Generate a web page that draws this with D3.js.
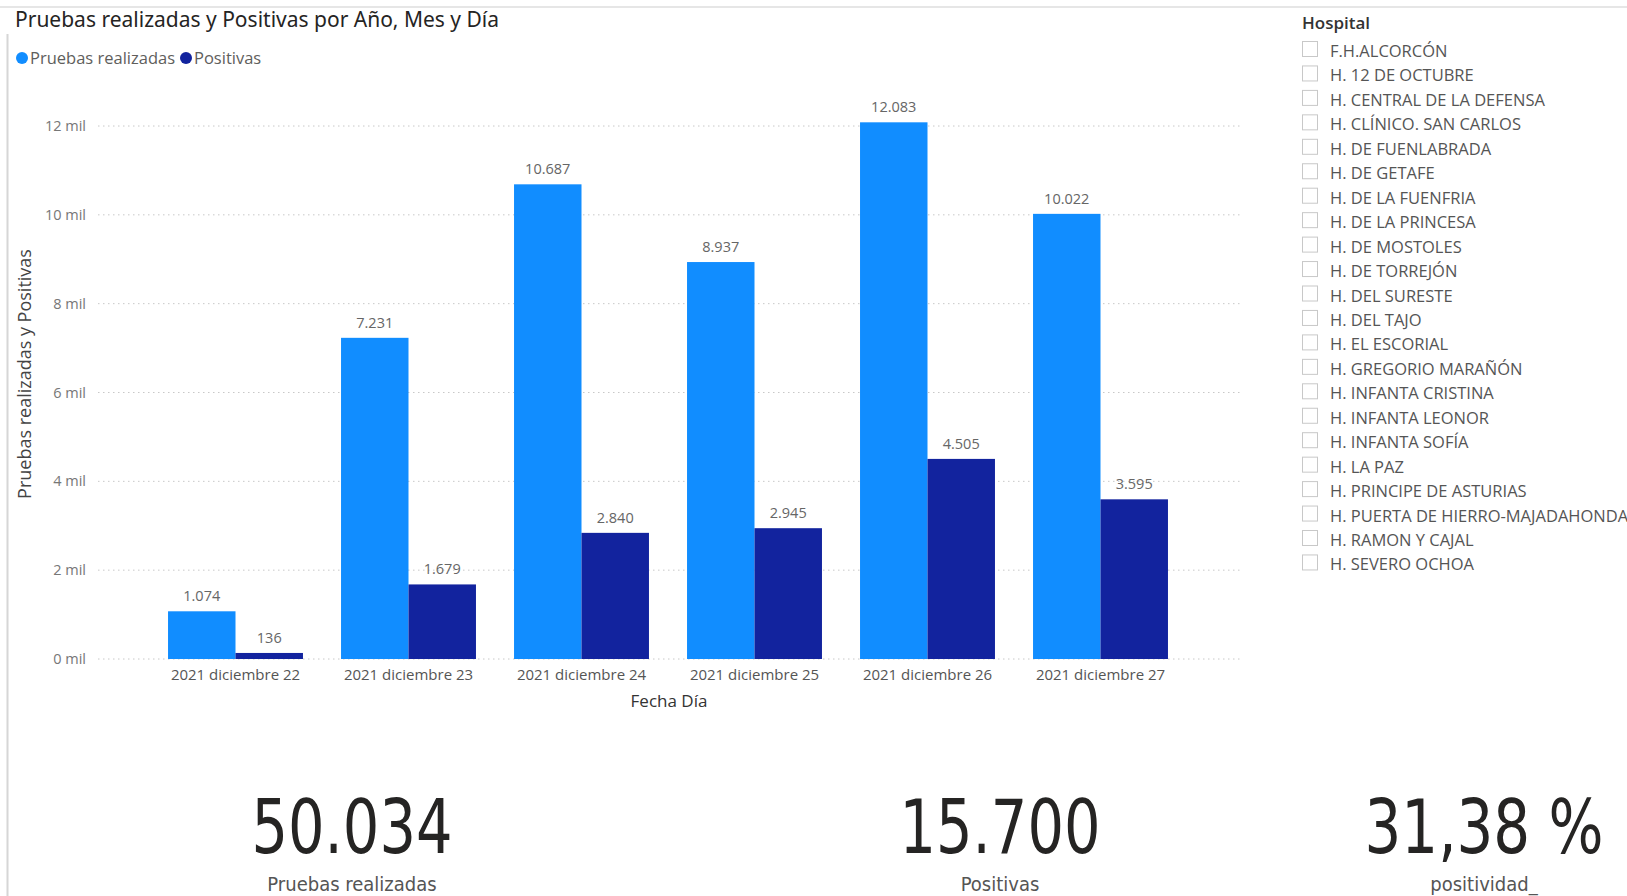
<!DOCTYPE html>
<html>
<head>
<meta charset="utf-8">
<script src="https://cdn.jsdelivr.net/npm/d3@7"></script>
<style>
  html, body { margin: 0; padding: 0; background: #fff; }
  svg { display: block; }
</style>
</head>
<body>
<svg id="chart" width="1627" height="896"></svg>
<script>
// ---- DATA ----
const categories = ["2021 diciembre 22", "2021 diciembre 23", "2021 diciembre 24", "2021 diciembre 25", "2021 diciembre 26", "2021 diciembre 27"];
const seriesNames = ["Pruebas realizadas", "Positivas"];
const pruebas = [1074, 7231, 10687, 8937, 12083, 10022];
const positivas = [136, 1679, 2840, 2945, 4505, 3595];
const yTicks = [0, 2000, 4000, 6000, 8000, 10000, 12000];
const hospitals = ["F.H.ALCORCÓN", "H. 12 DE OCTUBRE", "H. CENTRAL DE LA DEFENSA", "H. CLÍNICO. SAN CARLOS", "H. DE FUENLABRADA", "H. DE GETAFE", "H. DE LA FUENFRIA", "H. DE LA PRINCESA", "H. DE MOSTOLES", "H. DE TORREJÓN", "H. DEL SURESTE", "H. DEL TAJO", "H. EL ESCORIAL", "H. GREGORIO MARAÑÓN", "H. INFANTA CRISTINA", "H. INFANTA LEONOR", "H. INFANTA SOFÍA", "H. LA PAZ", "H. PRINCIPE DE ASTURIAS", "H. PUERTA DE HIERRO-MAJADAHONDA", "H. RAMON Y CAJAL", "H. SEVERO OCHOA"];
const kpiLabels = ["Pruebas realizadas", "Positivas", "positividad_"];

// ---- RENDER ----
const colors = ["#118DFF", "#12239E"];
const font = "'Open Sans', 'Noto Sans', sans-serif";
const es = d3.formatLocale({decimal: ",", thousands: ".", grouping: [3], currency: ["", "€"]});
const fmtInt = es.format(",d");
const fmtPct = es.format(",.2f");

const svg = d3.select("#chart");

// frame lines
svg.append("line").attr("x1", 7.5).attr("x2", 7.5).attr("y1", 34).attr("y2", 896).attr("stroke", "#d6d6d6").attr("stroke-width", 2);
svg.append("line").attr("x1", 0).attr("x2", 1627).attr("y1", 7).attr("y2", 7).attr("stroke", "#e6e6e6").attr("stroke-width", 2);

// title
svg.append("text").attr("x", 15).attr("y", 27).attr("font-family", "'Noto Sans', sans-serif")
  .attr("font-size", 21).attr("fill", "#252423").text("Pruebas realizadas y Positivas por Año, Mes y Día");

// legend
const legend = svg.append("g").attr("font-family", font).attr("font-size", 16.5).attr("fill", "#605E5C");
let lx = 22;
seriesNames.forEach((n, i) => {
  legend.append("circle").attr("cx", lx).attr("cy", 58).attr("r", 6).attr("fill", colors[i]);
  const t = legend.append("text").attr("x", lx + 8).attr("y", 64).text(n);
  lx = lx + 8 + t.node().getComputedTextLength() + 11;
});

// scales
const x0 = d3.scaleBand().domain(categories).range([149, 1187]).paddingInner(0.22).paddingOuter(0.11);
const x1 = d3.scaleBand().domain(seriesNames).range([0, x0.bandwidth()]);
const y = d3.scaleLinear().domain([0, 12000]).range([659, 126]);

// gridlines
svg.append("g").selectAll("line").data(yTicks).join("line")
  .attr("x1", 98).attr("x2", 1240)
  .attr("y1", d => y(d)).attr("y2", d => y(d))
  .attr("stroke", "#c8c8c8").attr("stroke-width", 1).attr("stroke-dasharray", "1.5,3.5");

// y axis
const yAxis = svg.append("g").attr("transform", "translate(86,0)")
  .call(d3.axisLeft(y).tickValues(yTicks).tickSize(0).tickPadding(0).tickFormat(d => (d / 1000) + " mil"));
yAxis.select(".domain").remove();
yAxis.selectAll("text").attr("font-family", font).attr("font-size", 14.5).attr("fill", "#777");

// y title
svg.append("text").attr("transform", "translate(31,374) rotate(-90)").attr("text-anchor", "middle")
  .attr("font-family", font).attr("font-size", 18).attr("fill", "#444").text("Pruebas realizadas y Positivas");

// x axis
const xAxis = svg.append("g").attr("transform", "translate(0,659)")
  .call(d3.axisBottom(x0).tickSize(0).tickPadding(10));
xAxis.select(".domain").remove();
xAxis.selectAll("text").attr("font-family", font).attr("font-size", 15).attr("fill", "#555");

svg.append("text").attr("x", 669).attr("y", 707).attr("text-anchor", "middle")
  .attr("font-family", font).attr("font-size", 17).attr("font-weight", 500).attr("fill", "#333").text("Fecha Día");

// bars
const rows = categories.map((c, i) => ({cat: c, vals: [pruebas[i], positivas[i]]}));
const g = svg.append("g");
const grp = g.selectAll("g").data(rows).join("g").attr("transform", d => `translate(${x0(d.cat)},0)`);
grp.selectAll("rect").data(d => d.vals.map((v, i) => ({s: seriesNames[i], v, i}))).join("rect")
  .attr("x", d => x1(d.s)).attr("width", x1.bandwidth())
  .attr("y", d => y(d.v)).attr("height", d => y(0) - y(d.v))
  .attr("fill", d => colors[d.i]);
grp.selectAll("text").data(d => d.vals.map((v, i) => ({s: seriesNames[i], v, i}))).join("text")
  .attr("x", d => x1(d.s) + x1.bandwidth() / 2).attr("y", d => y(d.v) - 10)
  .attr("text-anchor", "middle").attr("font-family", font).attr("font-size", 14.5).attr("fill", "#666")
  .text(d => fmtInt(d.v));

// slicer
const sl = svg.append("g").attr("font-family", font);
sl.append("text").attr("x", 1302).attr("y", 29).attr("font-size", 17).attr("font-weight", 600).attr("fill", "#333").text("Hospital");
hospitals.forEach((h, i) => {
  const yy = 52 + i * 24.45;
  sl.append("rect").attr("x", 1302.5).attr("y", yy - 10.5).attr("width", 15).attr("height", 15)
    .attr("fill", "#fff").attr("stroke", "#c8c8c8").attr("stroke-width", 1);
  sl.append("text").attr("x", 1330).attr("y", yy + 5).attr("font-size", 16.5).attr("fill", "#555").text(h);
});

// KPI cards
const totP = d3.sum(pruebas), totPos = d3.sum(positivas);
const kpiVals = [fmtInt(totP), fmtInt(totPos), fmtPct(totPos / totP * 100) + " %"];
const kpiX = [352, 1000, 1484];
const kpiW = [201, 201, 239];
kpiVals.forEach((v, i) => {
  const t = svg.append("text").attr("x", 0).attr("y", 0).attr("text-anchor", "middle")
    .attr("font-family", "'DejaVu Sans Condensed', 'DejaVu Sans', sans-serif").attr("font-size", 74).attr("fill", "#252423").text(v);
  const w = t.node().getComputedTextLength();
  t.attr("transform", `translate(${kpiX[i]},853) scale(${kpiW[i] / w},1)`);
  svg.append("text").attr("x", kpiX[i]).attr("y", 891).attr("text-anchor", "middle")
    .attr("font-family", "'Liberation Sans Narrow', 'DejaVu Sans Condensed', sans-serif").attr("font-size", 20).attr("fill", "#555").text(kpiLabels[i]);
});
</script>
</body>
</html>
